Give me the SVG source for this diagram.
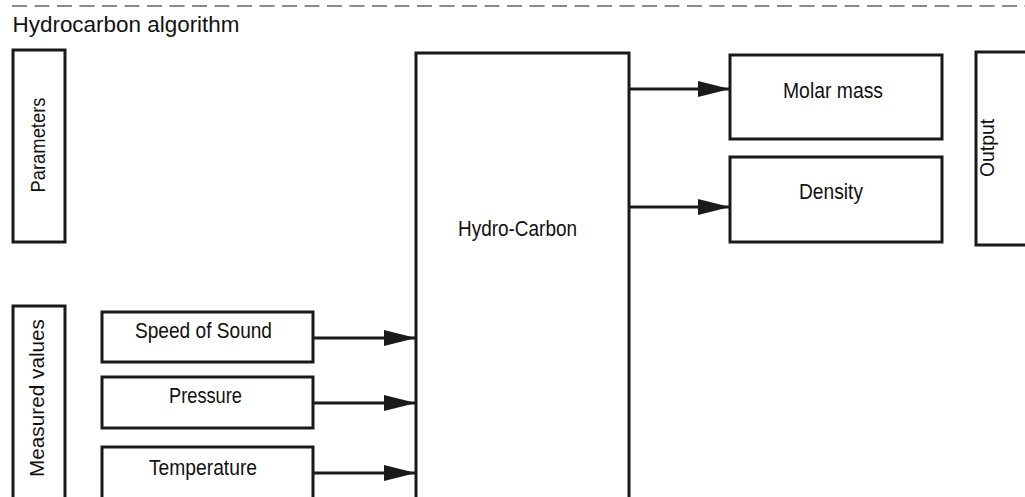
<svg xmlns="http://www.w3.org/2000/svg" width="1025" height="497" viewBox="0 0 1025 497">
<defs>
<style>
.box{fill:#fff;stroke:#1a1a1a;stroke-width:3}
.lbl{font-family:"Liberation Sans",Arial,sans-serif;font-size:22px;fill:#111}
.rot{font-family:"Liberation Sans",Arial,sans-serif;font-size:21px;fill:#111;text-anchor:middle}
.conn{stroke:#1a1a1a;stroke-width:3;fill:none;marker-end:url(#ah)}
</style>
<marker id="ah" markerUnits="userSpaceOnUse" markerWidth="32" markerHeight="16" refX="32" refY="8" orient="auto">
<path d="M0,0 L32,8 L0,16 z" fill="#1a1a1a"/>
</marker>
</defs>
<rect width="1025" height="497" fill="#fff"/>
<line x1="12" y1="6" x2="1025" y2="6" stroke="#8a8a8a" stroke-width="2" stroke-dasharray="15 7.5"/>
<text x="12.5" y="31.5" class="lbl" font-size="21" textLength="227" lengthAdjust="spacingAndGlyphs">Hydrocarbon algorithm</text>

<g id="parameters">
<rect class="box" x="13" y="50" width="52" height="192"/>
<text class="rot" transform="translate(45,145) rotate(-90)" textLength="95" lengthAdjust="spacingAndGlyphs">Parameters</text>
</g>
<g id="measured-values">
<path class="box" d="M13,510 L13,306 L65,306 L65,510"/>
<text class="rot" transform="translate(44,398) rotate(-90)" textLength="158" lengthAdjust="spacingAndGlyphs">Measured values</text>
</g>
<g id="speed-of-sound">
<rect class="box" x="102" y="312" width="211" height="50"/>
<text class="lbl" x="135" y="338" textLength="137" lengthAdjust="spacingAndGlyphs">Speed of Sound</text>
</g>
<g id="pressure">
<rect class="box" x="102" y="377" width="211" height="51"/>
<text class="lbl" x="169" y="403" textLength="73" lengthAdjust="spacingAndGlyphs">Pressure</text>
</g>
<g id="temperature">
<path class="box" d="M102,510 L102,447 L313,447 L313,510"/>
<text class="lbl" x="149" y="475" textLength="108" lengthAdjust="spacingAndGlyphs">Temperature</text>
</g>
<g id="hydro-carbon">
<path class="box" d="M416,510 L416,53 L629,53 L629,510"/>
<text class="lbl" x="458" y="236" textLength="119" lengthAdjust="spacingAndGlyphs">Hydro-Carbon</text>
</g>
<g id="molar-mass">
<rect class="box" x="730" y="55" width="212" height="84"/>
<text class="lbl" x="783" y="98" textLength="100" lengthAdjust="spacingAndGlyphs">Molar mass</text>
</g>
<g id="density">
<rect class="box" x="730" y="157" width="212" height="85"/>
<text class="lbl" x="799" y="199" textLength="64" lengthAdjust="spacingAndGlyphs">Density</text>
</g>
<g id="output">
<path class="box" d="M1030,52 L976,52 L976,245 L1030,245"/>
<text class="rot" transform="translate(994,148) rotate(-90)" textLength="58" lengthAdjust="spacingAndGlyphs">Output</text>
</g>

<g id="connectors">
<line class="conn" x1="313" y1="338" x2="416" y2="338"/>
<line class="conn" x1="313" y1="403" x2="416" y2="403"/>
<line class="conn" x1="313" y1="473" x2="416" y2="473"/>
<line class="conn" x1="629" y1="89" x2="730" y2="89"/>
<line class="conn" x1="629" y1="207" x2="730" y2="207"/>
</g>
</svg>
